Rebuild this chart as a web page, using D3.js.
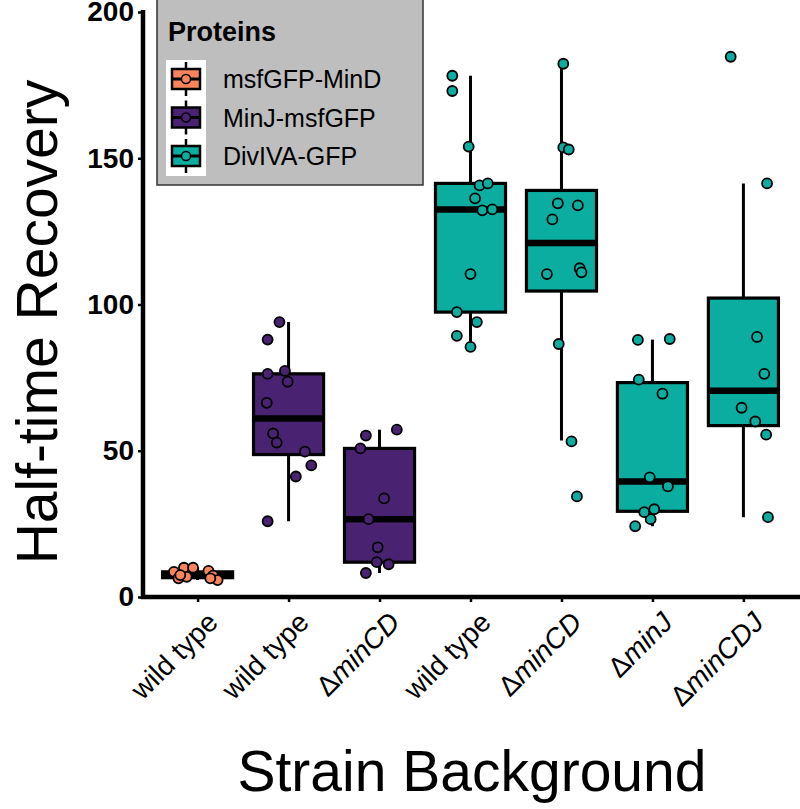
<!DOCTYPE html>
<html><head><meta charset="utf-8">
<script src="https://cdn.jsdelivr.net/npm/d3@7"></script>
<style>body{margin:0;background:#fff}svg{display:block}text{font-family:"Liberation Sans",Arial,sans-serif}</style>
</head><body><svg id="c" width="800" height="809"></svg>
<script>
// ---- data ----
const strains = ["wild type","wild type","ΔminCD","wild type","ΔminCD","ΔminJ","ΔminCDJ"];
const groupProtein = ["msfGFP-MinD","MinJ-msfGFP","MinJ-msfGFP","DivIVA-GFP","DivIVA-GFP","DivIVA-GFP","DivIVA-GFP"];
const proteins = ["msfGFP-MinD","MinJ-msfGFP","DivIVA-GFP"];
const proteinColors = ["#F7845C","#4A2272","#0AADA0"];
const yTicks = [0,50,100,150,200];
// box stats: lower whisker, Q1, median, Q3, upper whisker
const lowerW = [5.8, 25.9, 8.2, 85.5, 53.5, 24.2, 27.3];
const q1     = [6.6, 48.7, 11.9, 97.4, 104.6, 29.3, 58.6];
const median = [7.4, 61.0, 26.6, 132.5, 121.0, 39.5, 70.5];
const q3     = [8.6, 76.3, 50.8, 141.4, 139.0, 73.3, 102.2];
const upperW = [10.0, 94.0, 57.2, 178.2, 182.3, 88.0, 141.4];
// observations (value) and their horizontal jitter (in category units)
const obsValues = [
  [8.6, 6.4, 10.0, 10.0, 6.9, 8.9, 7.3, 5.8, 6.4, 7.5],
  [94, 88, 76.3, 77.3, 73.6, 66.4, 55.9, 52.8, 49.7, 45, 41.2, 25.9],
  [57.2, 55.2, 50.8, 33.7, 26.6, 17, 11.9, 11.2, 8.2],
  [178.2, 173, 154, 140.7, 141.4, 136.3, 132.2, 132.5, 110.4, 97.4, 94, 89.3, 85.5],
  [182.3, 153.7, 153, 134.6, 133.9, 129.1, 110.4, 112.4, 111, 86.5, 53.2, 34.4],
  [24.2, 26.6, 29, 30, 37.8, 40.9, 69.5, 74.3, 87.9, 88.2],
  [184.7, 141.4, 88.9, 76.3, 64.7, 60, 55.5, 27.3]
];
const obsJitter = [
  [-0.26, -0.21, -0.15, -0.05, -0.12, 0.12, 0.17, 0.22, 0.14, -0.19],
  [-0.10, -0.23, -0.23, -0.04, -0.01, -0.24, -0.17, -0.13, 0.18, 0.25, 0.08, -0.23],
  [0.19, -0.15, -0.21, 0.05, -0.12, -0.02, -0.03, 0.10, -0.15],
  [-0.20, -0.20, -0.02, 0.10, 0.19, 0.05, 0.13, 0.24, 0.0, -0.15, 0.07, -0.15, 0.0],
  [0.02, 0.02, 0.08, -0.04, 0.18, -0.10, -0.16, 0.20, 0.22, -0.03, 0.11, 0.17],
  [-0.19, -0.02, -0.09, 0.02, 0.17, -0.03, 0.11, -0.15, -0.16, 0.19],
  [-0.14, 0.26, 0.15, 0.23, -0.02, 0.13, 0.25, 0.27]
];

// ---- layout ----
const svg = d3.select("#c");
const L = 143, R = 798, T = 12, B = 597;
const idx = d3.range(strains.length);
const x = d3.scalePoint().domain(idx).range([L, R]).padding(0.6);
const xc = d3.scaleLinear().domain([0, 1]).range([0, x.step()]); // jitter units -> px
const y = d3.scaleLinear().domain([0, 200]).range([B, T]);
const color = d3.scaleOrdinal().domain(proteins).range(proteinColors);
const boxW = x.step() * 0.77;

const plot = svg.append("g");
idx.forEach(i => {
  const g = plot.append("g");
  const cx = x(i);
  const col = color(groupProtein[i]);
  g.append("line").attr("x1", cx).attr("x2", cx).attr("y1", y(upperW[i])).attr("y2", y(lowerW[i]))
    .attr("stroke", "#000").attr("stroke-width", 3);
  g.append("rect").attr("x", cx - boxW / 2).attr("width", boxW)
    .attr("y", y(q3[i])).attr("height", Math.max(0, y(q1[i]) - y(q3[i])))
    .attr("fill", col).attr("stroke", "#000").attr("stroke-width", 3.2);
  g.append("line").attr("x1", cx - boxW / 2).attr("x2", cx + boxW / 2)
    .attr("y1", y(median[i])).attr("y2", y(median[i]))
    .attr("stroke", "#000").attr("stroke-width", 6.5);
  obsValues[i].forEach((v, k) => {
    g.append("circle").attr("cx", cx + xc(obsJitter[i][k])).attr("cy", y(v)).attr("r", 5)
      .attr("fill", col).attr("stroke", "#000").attr("stroke-width", 1.8);
  });
});

// ---- axes ----
const yAxis = d3.axisLeft(y).tickValues(yTicks).tickSize(5).tickPadding(4).tickSizeOuter(0);
const ya = svg.append("g").attr("transform", `translate(${L},0)`).call(yAxis);
ya.select(".domain").remove();
ya.selectAll(".tick line").attr("stroke", "#000").attr("stroke-width", 2.5);
ya.selectAll(".tick text").attr("font-size", 28).attr("font-weight", "bold").attr("fill", "#000")
  .attr("font-family", '"Liberation Sans", Arial, sans-serif');
svg.append("line").attr("x1", L).attr("x2", L).attr("y1", T - 2).attr("y2", B + 2)
  .attr("stroke", "#000").attr("stroke-width", 4.5);

const xAxis = d3.axisBottom(x).tickSize(5).tickFormat(() => "").tickSizeOuter(0);
const xa = svg.append("g").attr("transform", `translate(0,${B})`).call(xAxis);
xa.select(".domain").remove();
xa.selectAll(".tick line").attr("stroke", "#000").attr("stroke-width", 2.5);
svg.append("line").attr("x1", L - 2).attr("x2", 800).attr("y1", B).attr("y2", B)
  .attr("stroke", "#000").attr("stroke-width", 4.5);

// x tick labels, rotated 45 degrees
idx.forEach(i => {
  const t = svg.append("text").attr("font-size", 28).attr("text-anchor", "end")
    .attr("transform", `translate(${x(i) + 22},${B + 27}) rotate(-45)`).attr("fill", "#000");
  const s = strains[i];
  if (s.startsWith("Δ")) {
    t.append("tspan").text("Δ");
    t.append("tspan").attr("font-style", "italic").text(s.slice(1));
  } else t.text(s);
});

// axis titles
svg.append("text").attr("transform", "translate(57,322) rotate(-90)").attr("text-anchor", "middle")
  .attr("font-size", 57).attr("fill", "#000").text("Half-time Recovery");
svg.append("text").attr("x", 472).attr("y", 791).attr("text-anchor", "middle")
  .attr("font-size", 57).attr("fill", "#000").text("Strain Background");

// ---- legend ----
const lg = svg.append("g");
lg.append("rect").attr("x", 157).attr("y", -2).attr("width", 266).attr("height", 187)
  .attr("fill", "#BEBEBE").attr("stroke", "#333").attr("stroke-width", 1.5);
lg.append("text").attr("x", 168).attr("y", 41).attr("font-size", 27).attr("font-weight", "bold")
  .attr("fill", "#000").text("Proteins");
lg.append("rect").attr("x", 166).attr("y", 60).attr("width", 40).attr("height", 116).attr("fill", "#fff");
proteins.forEach((p, k) => {
  const cy = 79 + k * 38.5, cx = 186;
  const kg = lg.append("g");
  kg.append("line").attr("x1", cx).attr("x2", cx).attr("y1", cy - 17).attr("y2", cy + 17)
    .attr("stroke", "#000").attr("stroke-width", 2.5);
  kg.append("rect").attr("x", cx - 14).attr("y", cy - 10).attr("width", 28).attr("height", 20)
    .attr("fill", color(p)).attr("stroke", "#000").attr("stroke-width", 2.5);
  kg.append("line").attr("x1", cx - 14).attr("x2", cx + 14).attr("y1", cy).attr("y2", cy)
    .attr("stroke", "#000").attr("stroke-width", 3);
  kg.append("circle").attr("cx", cx).attr("cy", cy).attr("r", 4.5).attr("fill", color(p))
    .attr("stroke", "#000").attr("stroke-width", 1.5);
  lg.append("text").attr("x", 223).attr("y", cy).attr("dy", "0.36em").attr("font-size", 25)
    .attr("fill", "#000").text(p);
});
</script></body></html>
